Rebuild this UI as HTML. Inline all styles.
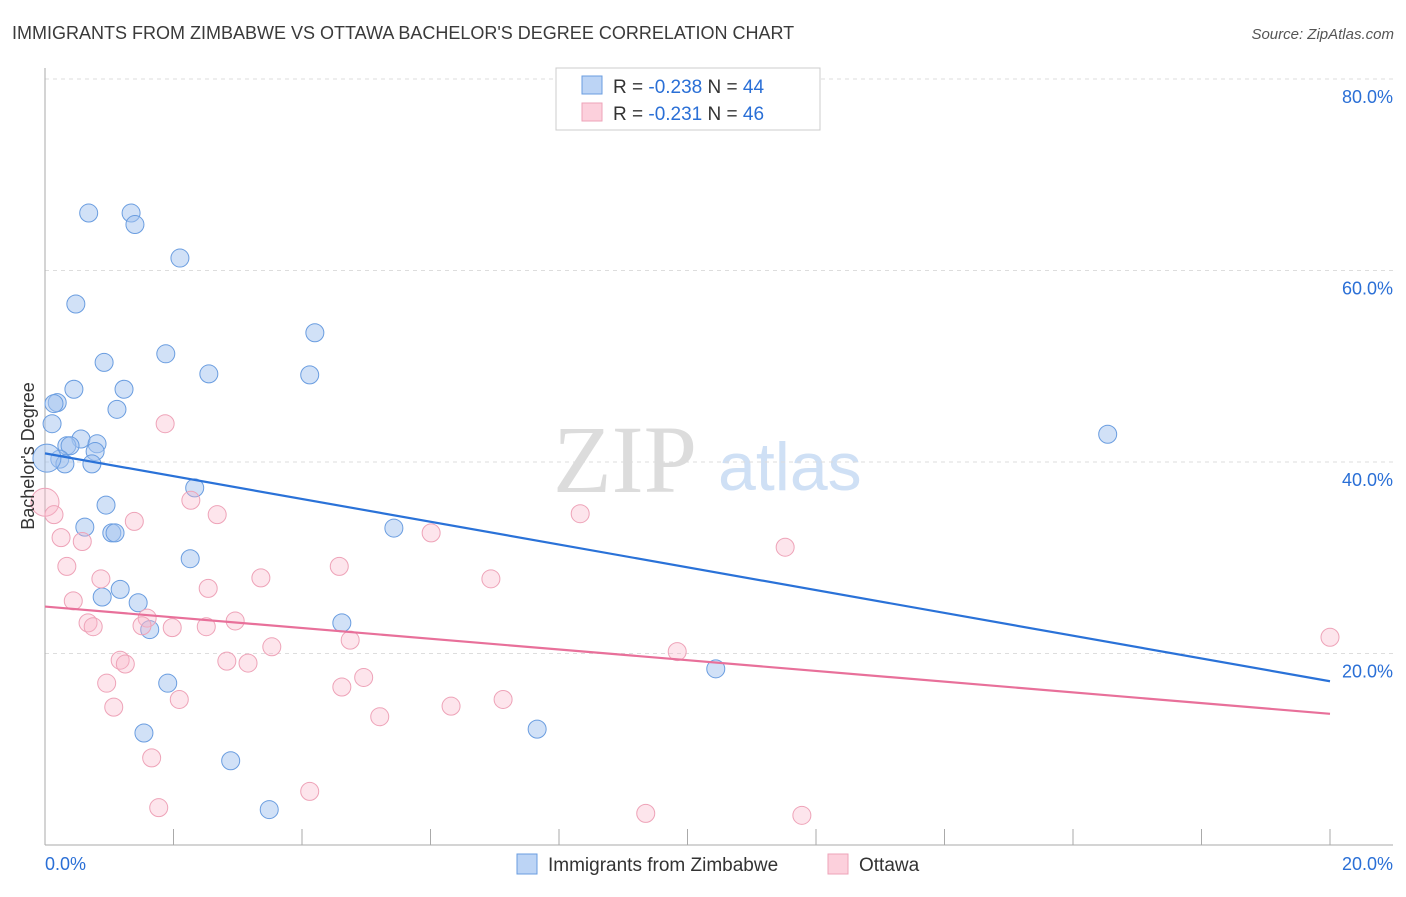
<!DOCTYPE html>
<html><head><meta charset="utf-8"><style>
body{margin:0;background:#fff;font-family:"Liberation Sans",sans-serif}
</style></head><body>
<svg id="chart" width="1406" height="892" xmlns="http://www.w3.org/2000/svg" font-family="Liberation Sans, sans-serif">
<text x="12" y="39" font-size="18" fill="#3a3a3a">IMMIGRANTS FROM ZIMBABWE VS OTTAWA BACHELOR'S DEGREE CORRELATION CHART</text>
<text x="1394" y="39" font-size="15" fill="#555" text-anchor="end" font-style="italic">Source: ZipAtlas.com</text>
<g>
<text x="553" y="492" font-size="96" fill="#dcdcdc" font-family="Liberation Serif, serif">ZIP</text>
<text x="718" y="490" font-size="68" fill="#cfe0f5">atlas</text>
</g>
<g id="grid"></g><g id="axes"></g><g id="pts"></g><g id="lines"></g>
<text transform="translate(34,456) rotate(-90)" font-size="18" fill="#333" text-anchor="middle">Bachelor's Degree</text>
<g>
<rect x="556" y="68" width="264" height="62" fill="#fff" stroke="#ccc"/>
<rect x="582" y="76" width="20" height="18" fill="#bcd4f5" stroke="#6a9de0"/>
<text x="613" y="93" font-size="19" fill="#333">R = <tspan fill="#2a6fd6">-0.238</tspan>   N = <tspan fill="#2a6fd6">44</tspan></text>
<rect x="582" y="103" width="20" height="18" fill="#fcd0dc" stroke="#eea3b8"/>
<text x="613" y="120" font-size="19" fill="#333">R =  <tspan fill="#2a6fd6">-0.231</tspan>   N = <tspan fill="#2a6fd6">46</tspan></text>
</g>
<g>
<rect x="517" y="854" width="20" height="20" fill="#bcd4f5" stroke="#6a9de0"/>
<text x="548" y="871" font-size="19" fill="#333">Immigrants from Zimbabwe</text>
<rect x="828" y="854" width="20" height="20" fill="#fcd0dc" stroke="#eea3b8"/>
<text x="859" y="871" font-size="19" fill="#333">Ottawa</text>
</g>
</svg>
<script>
const yTicks=[20,40,60,80];
const yTickLabels=["20.0%","40.0%","60.0%","80.0%"];
const xTickLabels=["0.0%","20.0%"];
const blueX=[0.68,1.34,1.40,2.10,0.48,4.20,1.88,0.92,2.55,4.12,0.45,1.23,0.19,0.14,1.12,0.11,0.56,0.81,0.34,0.39,0.78,0.23,0.31,0.73,0.03,2.33,0.95,0.62,5.43,1.04,1.09,2.26,1.17,0.89,1.45,4.62,1.63,16.54,10.44,1.91,1.54,7.66,2.89,3.49];
const blueY=[66.0,66.0,64.8,61.3,56.5,53.5,51.3,50.4,49.2,49.1,47.6,47.6,46.2,46.1,45.5,44.0,42.4,41.9,41.7,41.7,41.1,40.3,39.8,39.8,40.4,37.3,35.5,33.2,33.1,32.6,32.6,29.9,26.7,25.9,25.3,23.2,22.5,42.9,18.4,16.9,11.7,12.1,8.8,3.7];
const pinkX=[0,0.14,1.87,2.27,2.68,1.39,0.25,0.58,6.01,8.33,11.52,0.34,4.58,0.87,3.36,6.94,2.54,0.44,0.67,0.75,1.59,1.51,1.98,2.51,2.96,4.75,3.53,20.0,9.84,1.17,1.25,2.83,3.16,0.96,4.96,4.62,2.09,7.13,1.07,6.32,5.21,1.66,1.77,4.12,9.35,11.78];
const pinkY=[35.8,34.5,44.0,36.0,34.5,33.8,32.1,31.7,32.6,34.6,31.1,29.1,29.1,27.8,27.9,27.8,26.8,25.5,23.2,22.8,23.7,22.9,22.7,22.8,23.4,21.4,20.7,21.7,20.2,19.3,18.9,19.2,19.0,16.9,17.5,16.5,15.2,15.2,14.4,14.5,13.4,9.1,3.9,5.6,3.3,3.1];
const blueTrend=[40.9,17.1];
const pinkTrend=[24.9,13.7];
const NS="http://www.w3.org/2000/svg";
const X=v=>45+v/20*1285, Y=v=>845-v*9.575;
function mk(p,t,a){const e=document.createElementNS(NS,t);for(const k in a)e.setAttribute(k,a[k]);document.getElementById(p).appendChild(e);return e;}
yTicks.forEach((t,i)=>{
 let l=mk('grid','line',{x1:45,x2:1393,y1:Y(t),y2:Y(t),stroke:'#ddd','stroke-dasharray':'4,4'});
 
 let tx=mk('grid','text',{x:1393,y:Y(t)+24,'font-size':18,fill:'#2a6fd6','text-anchor':'end'});tx.textContent=yTickLabels[i];
 
});
let ax=mk('axes','line',{x1:45,x2:45,y1:68,y2:845,stroke:'#aaa'});
let bx=mk('axes','line',{x1:45,x2:1393,y1:845,y2:845,stroke:'#aaa'});
for(let i=1;i<=10;i++){let t=mk('axes','line',{x1:X(i*2),x2:X(i*2),y1:829,y2:845,stroke:'#aaa'});}
[[0,'start',45],[20,'end',1393]].forEach((d,i)=>{let t=mk('axes','text',{x:d[2],y:870,'font-size':18,fill:'#2a6fd6','text-anchor':d[1]});t.textContent=xTickLabels[i];});
blueX.forEach((x,i)=>{let c=mk('pts','circle',{cx:X(x),cy:Y(blueY[i]),r:x<0.05?14:9,fill:'rgba(164,196,240,0.5)',stroke:'#6a9de0','stroke-width':1});});
pinkX.forEach((x,i)=>{let c=mk('pts','circle',{cx:X(x),cy:Y(pinkY[i]),r:x<0.05?14:9,fill:'rgba(248,180,200,0.35)',stroke:'#eea3b8','stroke-width':1});});
let tb=mk('lines','line',{x1:X(0),x2:X(20),y1:Y(blueTrend[0]),y2:Y(blueTrend[1]),stroke:'#2a72d8','stroke-width':2.2});
let tp=mk('lines','line',{x1:X(0),x2:X(20),y1:Y(pinkTrend[0]),y2:Y(pinkTrend[1]),stroke:'#e8709a','stroke-width':2.2});
</script>
</body></html>
